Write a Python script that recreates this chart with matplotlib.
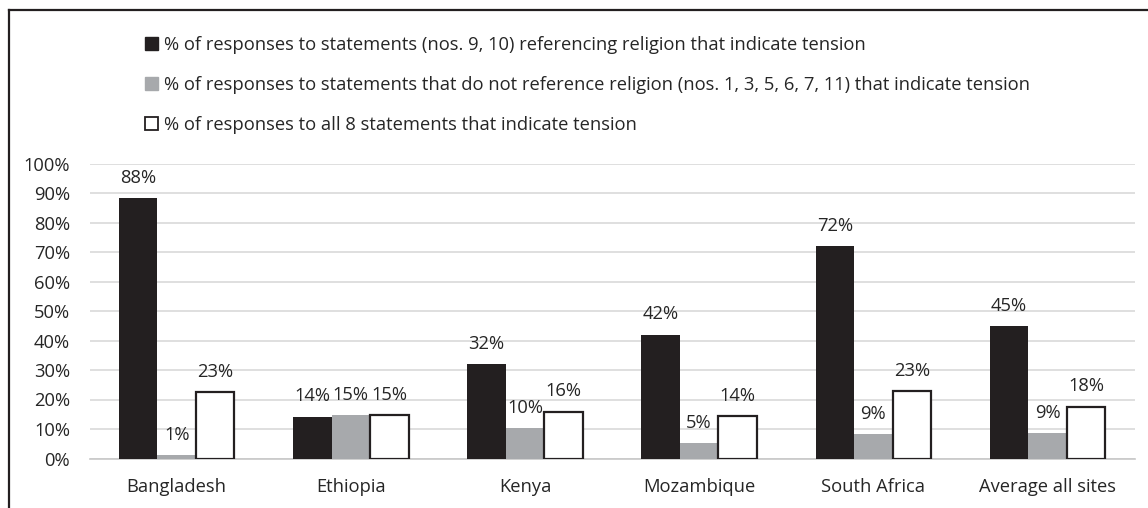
import numpy as np
import matplotlib.pyplot as plt
from matplotlib.lines import Line2D
from matplotlib.patches import Patch

plt.rcParams['font.family'] = ['Open Sans', 'DejaVu Sans']

# données
sites = ['Bangladesh', 'Ethiopia', 'Kenya', 'Mozambique', 'South Africa', 'Average all sites']
religion = [88.2, 14.2, 32.1, 42.0, 71.9, 44.8]
non_religion = [1.3, 14.7, 10.2, 5.1, 8.4, 8.5]
all_eight = [22.6, 14.6, 15.9, 14.4, 22.9, 17.6]
religion_lbl = ['88%', '14%', '32%', '42%', '72%', '45%']
non_religion_lbl = ['1%', '15%', '10%', '5%', '9%', '9%']
all_eight_lbl = ['23%', '15%', '16%', '14%', '23%', '18%']
series_names = [
    '% of responses to statements (nos. 9, 10) referencing religion that indicate tension',
    '% of responses to statements that do not reference religion (nos. 1, 3, 5, 6, 7, 11) that indicate tension',
    '% of responses to all 8 statements that indicate tension',
]

black = '#231f20'
grey = '#a7a9ac'
txt = '#262626'
fs = 13.2

W, H = 1148, 508
fig = plt.figure(figsize=(W / 100, H / 100), dpi=100)
ax = fig.add_axes([89.6 / W, (H - 458.5) / H, (1134.6 - 89.6) / W, (458.5 - 163.5) / H])

x = np.arange(len(sites))
w = 0.221
b1 = ax.bar(x - w, religion, w, color=black, zorder=3)
b2 = ax.bar(x, non_religion, w, color=grey, zorder=3)
b3 = ax.bar(x + w, all_eight, w, color='white', edgecolor=black, linewidth=1.6, zorder=4)

for bars, lbls in [(b1, religion_lbl), (b2, non_religion_lbl), (b3, all_eight_lbl)]:
    ax.bar_label(bars, labels=lbls, padding=8, fontsize=fs, color=txt)

ax.set_xlim(-0.5, len(sites) - 0.5)
ax.set_ylim(0, 100)
ax.set_yticks(np.arange(0, 101, 10))
ax.set_yticklabels([f'{v}%' for v in range(0, 101, 10)])
ax.set_xticks(x)
ax.set_xticklabels(sites)
ax.tick_params(axis='both', length=0, labelsize=fs, colors=txt)
ax.tick_params(axis='y', pad=14)
ax.tick_params(axis='x', pad=14)
ax.grid(axis='y', color='#d9d9d9', linewidth=1.2, zorder=0)
for s in ['top', 'right', 'left']:
    ax.spines[s].set_visible(False)
ax.spines['bottom'].set_color('#c8c8c8')
ax.spines['bottom'].set_linewidth(1.2)

handles = [
    Patch(facecolor=black, edgecolor=black),
    Patch(facecolor=grey, edgecolor=grey),
    Patch(facecolor='white', edgecolor=black, linewidth=1.3),
]
fig.legend(handles, series_names, loc='upper left', bbox_to_anchor=(138 / W, 1 - 29 / H),
           frameon=False, fontsize=fs, handlelength=0.7, handleheight=0.7,
           handletextpad=0.3, labelspacing=1.2, labelcolor=txt, borderaxespad=0)

# cadre
fig.add_artist(Line2D([8.5 / W, 8.5 / W], [0, 1 - 10 / H], color='#231f20', linewidth=1.6))
fig.add_artist(Line2D([8.5 / W, 1], [1 - 10 / H, 1 - 10 / H], color='#231f20', linewidth=1.6))

fig.savefig('out.png', dpi=100)
